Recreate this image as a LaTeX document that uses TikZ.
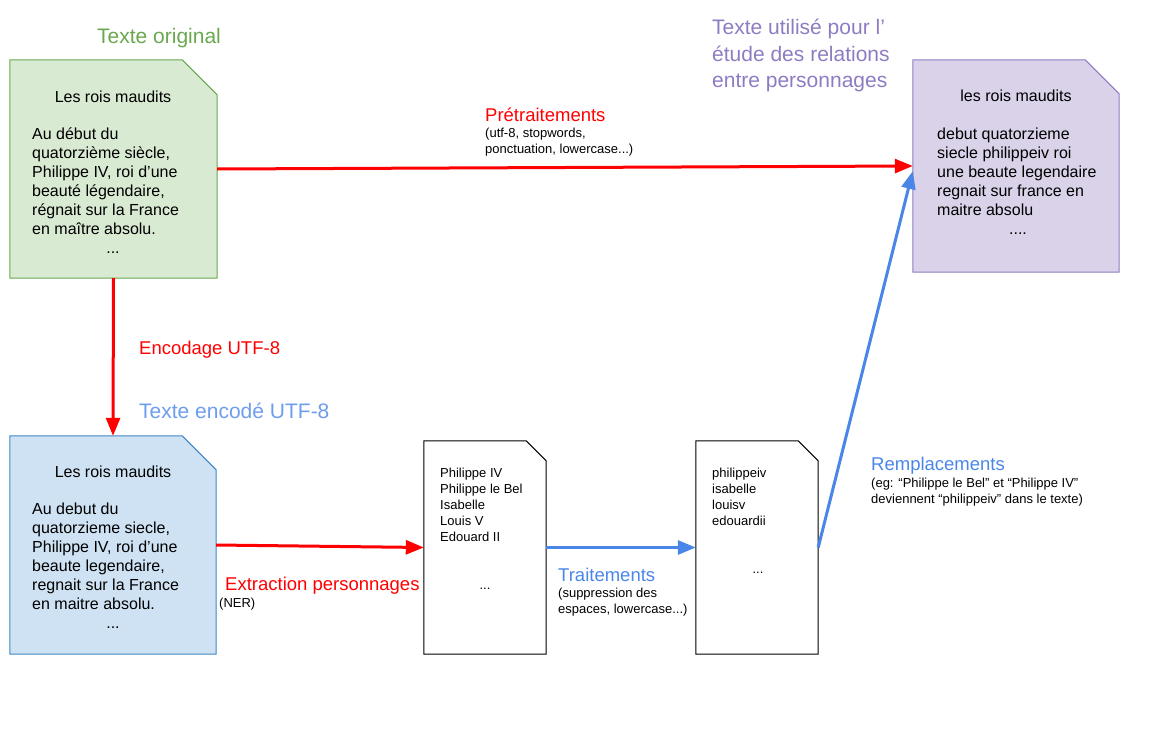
\documentclass[tikz,border=0pt]{standalone}
\usepackage{fontspec}
\setmainfont{Liberation Sans}
\usepackage{xcolor}
\usetikzlibrary{arrows.meta}
\usetikzlibrary{calc}

\definecolor{redline}{HTML}{FF0000}
\definecolor{blueline}{HTML}{4A86E8}
\definecolor{greenfill}{HTML}{D9EAD3}
\definecolor{greenline}{HTML}{6AA84F}
\definecolor{purplefill}{HTML}{D9D2E9}
\definecolor{purpleline}{HTML}{8E7CC3}
\definecolor{bluefill}{HTML}{CFE2F3}
\definecolor{bluedoc}{HTML}{3D85C6}
\definecolor{bluetext}{HTML}{6D9EEB}

\begin{document}
\begin{tikzpicture}[x=1pt, y=-1pt]
  \tikzstyle{page}=[rectangle, inner sep=0pt]
  \tikzstyle{body}=[anchor=base west, align=left, inner sep=0pt, font=\fontsize{16}{19}\selectfont]
  \tikzstyle{small}=[anchor=base west, align=left, inner sep=0pt, font=\fontsize{13}{16}\selectfont]
  \tikzstyle{head}=[anchor=base west, align=left, inner sep=0pt, font=\fontsize{21}{26}\selectfont]
  \tikzstyle{lab}=[anchor=base west, inner sep=0pt, font=\fontsize{18.5}{22}\selectfont]
  \tikzstyle{flow}=[line width=3pt, -{Triangle[length=18pt,width=14pt]}]
\useasboundingbox (0,0) rectangle (1161,752);

% pages
\node[page, minimum width=207pt, minimum height=218pt] (orig) at (113.5,169) {};
\node[page, minimum width=206pt, minimum height=212pt] (used) at (1016,166) {};
\node[page, minimum width=206pt, minimum height=218pt] (enc) at (113,545) {};
\node[page, minimum width=122pt, minimum height=213pt] (names) at (485,547.5) {};
\node[page, minimum width=122pt, minimum height=213pt] (clean) at (757,547.5) {};
\foreach \d/\c/\f/\l in {orig/35/greenfill/greenline, used/34/purplefill/purpleline,
    enc/34/bluefill/bluedoc, names/20/white/black, clean/20/white/black}{
  \draw[draw=\l, fill=\f, line width=1pt] (\d.north west) -- ([xshift=-\c pt]\d.north east)
     -- ([yshift=-\c pt]\d.north east) -- (\d.south east) -- (\d.south west) -- cycle;
}

% texte original (base = derniere ligne)
\node[head, text=greenline] (orig-head) at (97,44) {Texte original};
\node[body, anchor=base] (orig-title) at (113,102) {Les rois maudits};
\node[body] (orig-text) at (32,234) {Au début du\\quatorzième siècle,\\Philippe IV, roi d’une\\beauté légendaire,\\régnait sur la France\\en maître absolu.};
\node[body, anchor=base] (orig-dots) at (113,253) {...};

% texte final
\node[head, text=purpleline] (used-head) at (712,87) {Texte utilisé pour l’\\étude des relations\\entre personnages};
\node[body, anchor=base] (used-title) at (1016,101) {les rois maudits};
\node[body] (used-text) at (937,215) {debut quatorzieme\\siecle philippeiv roi\\une beaute legendaire\\regnait sur france en\\maitre absolu};
\node[body, anchor=base] (used-dots) at (1018,234) {....};

% texte encode
\node[head, text=bluetext] (enc-head) at (139,418) {Texte encodé UTF-8};
\node[body, anchor=base] (enc-title) at (113,477) {Les rois maudits};
\node[body] (enc-text) at (32,609) {Au debut du\\quatorzieme siecle,\\Philippe IV, roi d’une\\beaute legendaire,\\regnait sur la France\\en maitre absolu.};
\node[body, anchor=base] (enc-dots) at (113,628) {...};

% personnages
\node[small] (names-text) at (440,541) {Philippe IV\\Philippe le Bel\\Isabelle\\Louis V\\Edouard II};
\node[small, anchor=base] (names-dots) at (485,589) {...};
\node[small] (clean-text) at (712,525) {philippeiv\\isabelle\\louisv\\edouardii};
\node[small, anchor=base] (clean-dots) at (758,573) {...};

% fleches
\draw[flow, redline] (orig.east) -- (used.west);
\draw[flow, redline] (orig.south) -- (enc.north);
\draw[flow, redline] (enc.east) -- (names.west);
\draw[flow, blueline] (names.east) -- (clean.west);
\draw[flow, blueline] (clean.east) -- ([yshift=-5pt]used.west);

\node[lab, text=redline] (pre-lab) at (485,121) {Prétraitements};
\node[small] (pre-note) at (485,153.5) {(utf-8, stopwords,\\ponctuation, lowercase...)};
\node[lab, text=redline] (utf-lab) at (139,354) {Encodage UTF-8};
\node[lab, text=redline] (ner-lab) at (225,590) {Extraction personnages};
\node[small] (ner-note) at (219,607) {(NER)};
\node[lab, text=blueline] (tr-lab) at (558,581) {Traitements};
\node[small] (tr-note) at (558,613) {(suppression des\\espaces, lowercase...)};
\node[lab, text=blueline] (rep-lab) at (871,470) {Remplacements};
\node[small] (rep-note) at (871,503) {(eg: “Philippe le Bel” et “Philippe IV”\\deviennent “philippeiv” dans le texte)};
\end{tikzpicture}
\end{document}
